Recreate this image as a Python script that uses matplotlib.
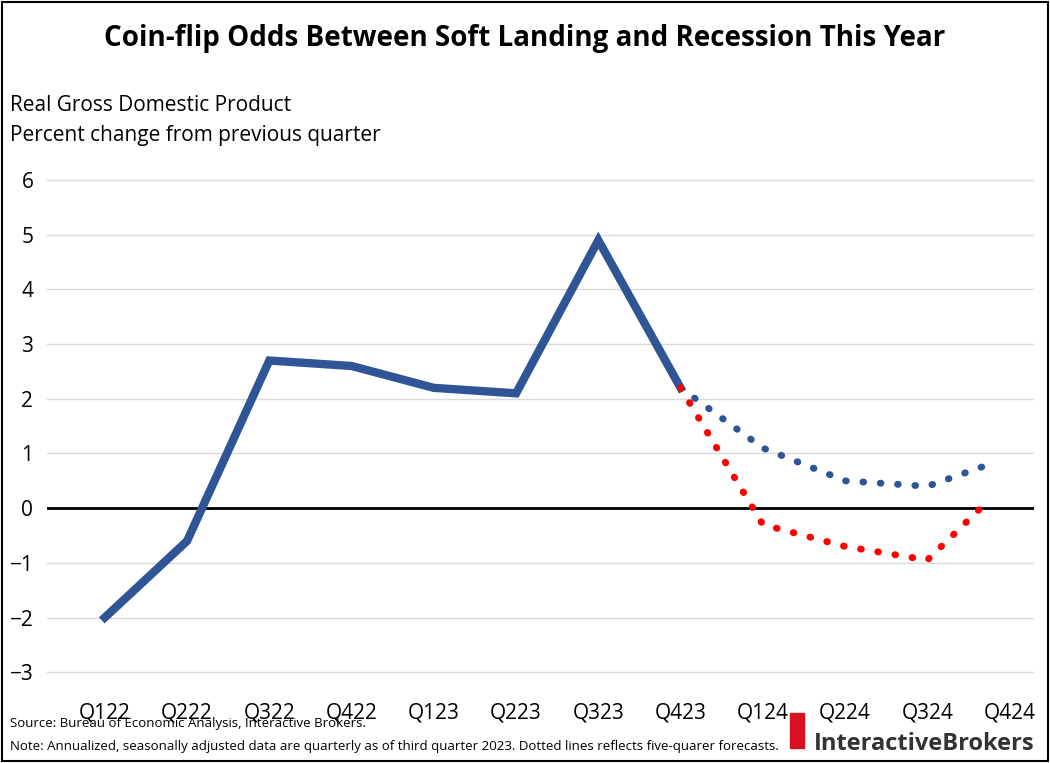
import matplotlib.pyplot as plt
import matplotlib.patches as mpatches

plt.rcParams['font.family'] = 'Open Sans'

quarters = ['Q122', 'Q222', 'Q322', 'Q422', 'Q123', 'Q223', 'Q323', 'Q423', 'Q124', 'Q224', 'Q324', 'Q424']
actual = [-2.0, -0.6, 2.7, 2.6, 2.2, 2.1, 4.9, 2.2]
soft_q = ['Q423', 'Q124', 'Q224', 'Q324', 'Q424']
soft = [2.2, 1.1, 0.5, 0.4, 0.8]
recession = [2.2, -0.3, -0.7, -0.95, 0.15]

blue = '#2f5597'
fig = plt.figure(figsize=(10.5, 7.63), dpi=100)
ax = fig.add_axes([0.045, 0.0975, 0.94, 0.688])

x_all = list(range(len(quarters)))
xf = [quarters.index(q) for q in soft_q]
xf[-1] = xf[-1] - 0.25

ax.plot(x_all[:len(actual)], actual, color=blue, lw=6, solid_joinstyle='miter', zorder=3)
ax.plot(xf, soft, color=blue, lw=5, ls=(0, (0.1, 2.4)), dash_capstyle='round', zorder=4)
ax.plot(xf, recession, color='red', lw=5, ls=(0, (0.1, 2.4)), dash_capstyle='round', zorder=4)
ax.axhline(0, color='black', lw=2, zorder=2)

ax.set_ylim(-3.3, 6.3)
ax.set_yticks(range(-3, 7))
ax.set_xlim(-0.7, 11.3)
ax.set_xticks(x_all)
ax.set_xticklabels(quarters)
ax.grid(axis='y', color='#d9d9d9', lw=1)
ax.set_axisbelow(True)
for s in ax.spines.values():
    s.set_visible(False)
ax.tick_params(length=0, labelsize=15, pad=10)

fig.text(0.5, 0.94, 'Coin-flip Odds Between Soft Landing and Recession This Year',
         ha='center', fontsize=20, fontweight='bold')
fig.text(0.01, 0.855, 'Real Gross Domestic Product', fontsize=15)
fig.text(0.01, 0.815, 'Percent change from previous quarter', fontsize=15)
fig.text(0.01, 0.047, 'Source: Bureau of Economic Analysis, Interactive Brokers.', fontsize=9.5)
fig.text(0.01, 0.017, 'Note: Annualized, seasonally adjusted data are quarterly as of third quarter 2023. Dotted lines reflects five-quarer forecasts.', fontsize=9.5)
fig.text(0.985, 0.017, 'InteractiveBrokers', ha='right', fontsize=17, color='#333333', fontweight='bold')
fig.patches.append(mpatches.Rectangle((0.752, 0.02), 0.014, 0.045, color='#d81222', transform=fig.transFigure))
fig.patches.append(mpatches.Rectangle((0.002, 0.002), 0.996, 0.996, fill=False, ec='black', lw=1.5, transform=fig.transFigure))

fig.savefig('out.png')
